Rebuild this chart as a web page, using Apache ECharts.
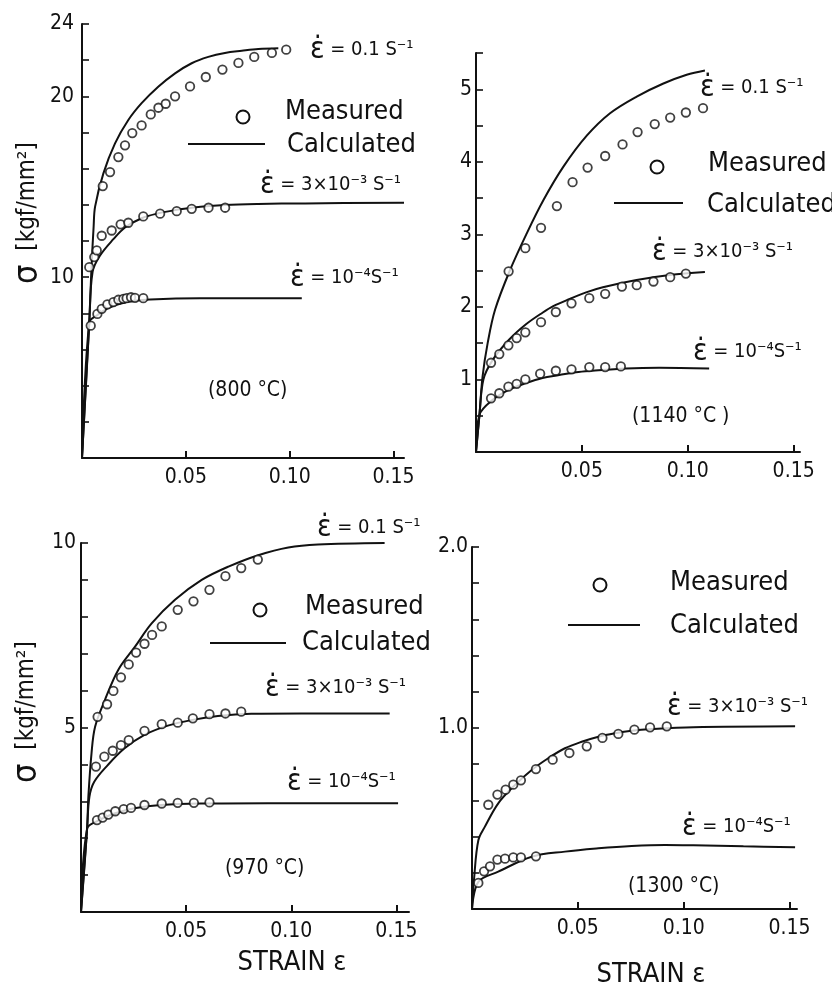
<!DOCTYPE html>
<html>
<head>
<meta charset="utf-8">
<script src="https://cdn.jsdelivr.net/npm/echarts@6/dist/echarts.min.js"></script>
<style>
  html, body { margin: 0; padding: 0; background: #fff; }
  #chart { width: 832px; height: 988px; }
</style>
</head>
<body>
<div id="chart"></div>
<script>
// ---- Strain axis tick labels (shared by all four panels) ----
const strainTicks = [0.05, 0.10, 0.15];

// ---- Stress axis labels per panel ----
const stressLabels800 = [10, 20, 24];
const stressLabels1140 = [1, 2, 3, 4, 5];
const stressLabels970 = [5, 10];
const stressLabels1300 = [1.0, 2.0];

// ---- Strain-rate captions ----
const rateFast = '0.1 S⁻¹';
const rateMid = '3×10⁻³ S⁻¹';
const rateSlow = '10⁻⁴S⁻¹';

// ---- 800 °C : [strain, stress kgf/mm²] ----
const calc800Fast = [[0,0],[0.0035,7.5],[0.0046,10.6],[0.0056,12.8],[0.0063,13.9],[0.0103,15.74],[0.0159,17.40],[0.0223,18.69],[0.0287,19.62],[0.0367,20.53],[0.0448,21.27],[0.0528,21.83],[0.0608,22.18],[0.0688,22.40],[0.0769,22.52],[0.0849,22.62],[0.0945,22.66]];
const calc800Mid = [[0,0],[0.0035,7.5],[0.0051,10.3],[0.0087,11.2],[0.0151,12.1],[0.0207,12.75],[0.0287,13.26],[0.0367,13.53],[0.0448,13.71],[0.0528,13.84],[0.0688,13.99],[0.0847,14.05],[0.1074,14.08],[0.155,14.12]];
const calc800Slow = [[0,0],[0.0035,7.51],[0.0071,7.88],[0.0119,8.25],[0.0215,8.62],[0.0328,8.76],[0.0568,8.84],[0.1058,8.84]];
const meas800Fast = [[0.0100,15.04],[0.0135,15.81],[0.0175,16.64],[0.0207,17.29],[0.0242,17.97],[0.0287,18.39],[0.0331,19.00],[0.0368,19.37],[0.0403,19.59],[0.0448,20.00],[0.0520,20.55],[0.0596,21.07],[0.0676,21.48],[0.0753,21.85],[0.0829,22.18],[0.0914,22.40],[0.0983,22.58]];
const meas800Mid = [[0.0035,10.55],[0.0059,11.11],[0.0071,11.48],[0.0095,12.29],[0.0143,12.58],[0.0186,12.92],[0.0223,13.01],[0.0295,13.36],[0.0376,13.51],[0.0456,13.65],[0.0528,13.78],[0.0609,13.84],[0.0689,13.84]];
const meas800Slow = [[0.0042,7.32],[0.0074,7.97],[0.0095,8.25],[0.0122,8.49],[0.0151,8.62],[0.0175,8.75],[0.0199,8.80],[0.0215,8.84],[0.0236,8.89],[0.0255,8.86],[0.0295,8.84]];

// ---- 1140 °C ----
const calc1140Fast = [[0,0],[0.0016,0.5],[0.0031,1.04],[0.0055,1.5],[0.0090,1.96],[0.0161,2.51],[0.0239,3.01],[0.0318,3.47],[0.0412,3.93],[0.0523,4.36],[0.0633,4.67],[0.0759,4.90],[0.0885,5.08],[0.0995,5.20],[0.1081,5.26]];
const calc1140Mid = [[0,0],[0.0016,0.5],[0.0035,1.00],[0.0079,1.27],[0.0157,1.55],[0.0236,1.76],[0.0314,1.92],[0.0365,2.01],[0.0443,2.11],[0.0520,2.20],[0.0599,2.27],[0.0758,2.37],[0.0915,2.44],[0.1081,2.48]];
const calc1140Slow = [[0,0],[0.0016,0.51],[0.0079,0.72],[0.0157,0.86],[0.0236,0.95],[0.0314,1.02],[0.0393,1.06],[0.0472,1.10],[0.0550,1.12],[0.0708,1.15],[0.0865,1.16],[0.1101,1.15]];
const meas1140Fast = [[0.0154,2.49],[0.0233,2.81],[0.0307,3.09],[0.0382,3.39],[0.0456,3.72],[0.0527,3.92],[0.0610,4.08],[0.0692,4.24],[0.0763,4.41],[0.0844,4.52],[0.0917,4.61],[0.0991,4.68],[0.1072,4.74]];
const meas1140Mid = [[0.0071,1.23],[0.0110,1.35],[0.0153,1.47],[0.0192,1.57],[0.0233,1.65],[0.0307,1.79],[0.0377,1.93],[0.0451,2.05],[0.0535,2.12],[0.0610,2.18],[0.0689,2.28],[0.0759,2.30],[0.0838,2.35],[0.0917,2.41],[0.0991,2.46]];
const meas1140Slow = [[0.0071,0.74],[0.0110,0.81],[0.0153,0.90],[0.0192,0.94],[0.0233,1.00],[0.0303,1.08],[0.0377,1.12],[0.0451,1.14],[0.0535,1.17],[0.0610,1.17],[0.0684,1.18]];

// ---- 970 °C ----
const calc970Fast = [[0,0],[0.0029,2.26],[0.0035,3.12],[0.0050,4.3],[0.0067,5.02],[0.0114,5.75],[0.0177,6.56],[0.0257,7.19],[0.0336,7.82],[0.0447,8.46],[0.0574,9.00],[0.0701,9.36],[0.0843,9.67],[0.0986,9.88],[0.1127,9.96],[0.1444,10.0]];
const calc970Mid = [[0,0],[0.0029,2.26],[0.0040,3.12],[0.0063,3.53],[0.0127,3.98],[0.0206,4.43],[0.0302,4.80],[0.0413,5.05],[0.0524,5.20],[0.0651,5.31],[0.0810,5.37],[0.1048,5.38],[0.1468,5.38]];
const calc970Slow = [[0,0],[0.0029,2.26],[0.0079,2.47],[0.0159,2.67],[0.0254,2.81],[0.0381,2.90],[0.0571,2.94],[0.0889,2.95],[0.1508,2.95]];
const meas970Fast = [[0.0079,5.29],[0.0124,5.63],[0.0154,5.99],[0.0190,6.36],[0.0227,6.71],[0.0262,7.03],[0.0302,7.27],[0.0338,7.51],[0.0384,7.74],[0.0460,8.19],[0.0535,8.42],[0.0611,8.73],[0.0687,9.10],[0.0762,9.32],[0.0841,9.55]];
const meas970Mid = [[0.0071,3.94],[0.0111,4.21],[0.0151,4.37],[0.0190,4.52],[0.0227,4.66],[0.0302,4.91],[0.0384,5.09],[0.0460,5.13],[0.0532,5.25],[0.0611,5.36],[0.0687,5.38],[0.0762,5.43]];
const meas970Slow = [[0.0076,2.49],[0.0103,2.56],[0.0130,2.64],[0.0163,2.73],[0.0203,2.79],[0.0238,2.82],[0.0302,2.90],[0.0384,2.94],[0.0460,2.96],[0.0537,2.96],[0.0611,2.97]];

// ---- 1300 °C ----
const calc1300Mid = [[0,0],[0.0010,0.17],[0.0030,0.38],[0.0061,0.455],[0.0124,0.584],[0.0203,0.685],[0.0282,0.768],[0.0360,0.833],[0.0439,0.888],[0.0518,0.924],[0.0597,0.952],[0.0675,0.971],[0.0754,0.985],[0.0849,0.994],[0.1046,1.004],[0.1526,1.009]];
const calc1300Slow = [[0,0],[0.0030,0.15],[0.0124,0.206],[0.0282,0.289],[0.0439,0.317],[0.0597,0.335],[0.0754,0.348],[0.0912,0.354],[0.1046,0.352],[0.1282,0.346],[0.1526,0.341]];
const meas1300Mid = [[0.0077,0.576],[0.0120,0.632],[0.0159,0.659],[0.0195,0.687],[0.0231,0.711],[0.0302,0.773],[0.0381,0.825],[0.0460,0.862],[0.0542,0.899],[0.0616,0.945],[0.0691,0.967],[0.0767,0.991],[0.0841,1.004],[0.0920,1.009]];
const meas1300Slow = [[0.0030,0.144],[0.0057,0.208],[0.0085,0.236],[0.0120,0.273],[0.0156,0.278],[0.0195,0.285],[0.0231,0.285],[0.0302,0.291]];

// ---- Drawing ----
const FONT = "'DejaVu Sans Condensed','DejaVu Sans',sans-serif";
const INK = '#111';

const panels = [
  { grid: { left: 82, top: 24, width: 322, height: 434 }, xMax: 0.155, yMax: 24, yStep: 2, labels: stressLabels800, fmt: v => String(v), lblGap: 8,
    calc: [calc800Fast, calc800Mid, calc800Slow], meas: [meas800Fast, meas800Mid, meas800Slow] },
  { grid: { left: 476, top: 53, width: 324, height: 399 }, xMax: 0.153, yMax: 5.5, yStep: 0.5, labels: stressLabels1140, fmt: v => String(v), lblGap: 4,
    calc: [calc1140Fast, calc1140Mid, calc1140Slow], meas: [meas1140Fast, meas1140Mid, meas1140Slow] },
  { grid: { left: 81, top: 543, width: 328, height: 369 }, xMax: 0.156, yMax: 10, yStep: 1, labels: stressLabels970, fmt: v => String(v), lblGap: 5,
    calc: [calc970Fast, calc970Mid, calc970Slow], meas: [meas970Fast, meas970Mid, meas970Slow] },
  { grid: { left: 472, top: 547, width: 325, height: 362 }, xMax: 0.1535, yMax: 2.0, yStep: 0.2, labels: stressLabels1300, fmt: v => v.toFixed(1), lblGap: 4,
    calc: [calc1300Mid, calc1300Slow], meas: [meas1300Mid, meas1300Slow] }
];

const grids = [], xAxes = [], yAxes = [], series = [];
panels.forEach((p, i) => {
  grids.push(p.grid);
  xAxes.push({
    gridIndex: i, type: 'value', min: 0, max: p.xMax,
    axisLine: { lineStyle: { color: INK, width: 2 } },
    axisTick: { inside: true, length: 7, customValues: strainTicks, lineStyle: { color: INK, width: 2 } },
    axisLabel: { customValues: strainTicks, formatter: v => v.toFixed(2), color: INK, fontFamily: FONT, fontSize: 21, margin: 9 },
    splitLine: { show: false }
  });
  yAxes.push({
    gridIndex: i, type: 'value', min: 0, max: p.yMax, interval: p.yStep,
    axisLine: { show: true, lineStyle: { color: INK, width: 2 } },
    axisTick: { show: true, inside: true, length: 7, lineStyle: { color: INK, width: 1.6 } },
    axisLabel: {
      color: INK, fontFamily: FONT, fontSize: 21, margin: p.lblGap,
      formatter: v => p.labels.some(l => Math.abs(l - v) < 1e-6) ? p.fmt(v) : ''
    },
    splitLine: { show: false }
  });
  p.calc.forEach(d => series.push({
    type: 'line', xAxisIndex: i, yAxisIndex: i, data: d, showSymbol: false,
    smooth: 0.35, silent: true, z: 2,
    lineStyle: { color: INK, width: 2 }
  }));
  p.meas.forEach(d => series.push({
    type: 'scatter', xAxisIndex: i, yAxisIndex: i, data: d, symbol: 'circle', symbolSize: 8.5,
    silent: true, z: 3, itemStyle: { color: '#fff', borderColor: INK, borderWidth: 1.8 }
  }));
});

// Text helpers
const txt = (x, y, text, size, align) => ({
  type: 'text', x, y, silent: true,
  style: { text, fill: INK, fontFamily: FONT, fontSize: size, textAlign: align || 'left', textVerticalAlign: 'middle' }
});
const rate = (x, y, val) => ({
  type: 'text', x, y, silent: true,
  style: {
    text: '{e|ε̇} = ' + val, fill: INK, fontFamily: FONT, fontSize: 20,
    textAlign: 'left', textVerticalAlign: 'middle',
    rich: { e: { fontSize: 30, fontFamily: FONT, fill: INK } }
  }
});
const mark = (cx, cy) => ({ type: 'circle', silent: true, shape: { cx, cy, r: 6.5 }, style: { fill: '#fff', stroke: INK, lineWidth: 2 } });
const stroke = (x1, x2, y) => ({ type: 'line', silent: true, shape: { x1, y1: y, x2, y2: y }, style: { stroke: INK, lineWidth: 2 } });
const stressName = (x, y) => ({
  type: 'text', x, y, rotation: Math.PI / 2, silent: true,
  style: {
    text: '{s|σ}  [kgf/mm²]', fill: INK, fontFamily: FONT, fontSize: 24,
    textAlign: 'center', textVerticalAlign: 'middle',
    rich: { s: { fontSize: 34, fontFamily: FONT, fill: INK } }
  }
});

const graphic = [
  // 800 °C
  rate(310, 50, rateFast), mark(243, 117), txt(285, 112, 'Measured', 27),
  stroke(188, 265, 144), txt(287, 145, 'Calculated', 27),
  rate(260, 185, rateMid), rate(290, 278, rateSlow), txt(208, 391, '(800 °C)', 21),
  stressName(28, 213),
  // 1140 °C
  rate(700, 88, rateFast), mark(657, 167), txt(708, 164, 'Measured', 27),
  stroke(614, 683, 203), txt(707, 205, 'Calculated', 27),
  rate(652, 252, rateMid), rate(693, 352, rateSlow), txt(632, 417, '(1140 °C )', 21),
  // 970 °C
  rate(317, 528, rateFast), mark(260, 610), txt(305, 607, 'Measured', 27),
  stroke(210, 286, 643), txt(302, 643, 'Calculated', 27),
  rate(265, 688, rateMid), rate(287, 782, rateSlow), txt(225, 869, '(970 °C)', 21),
  stressName(27, 712), txt(292, 963, 'STRAIN ε', 27, 'center'),
  // 1300 °C
  mark(600, 585), txt(670, 583, 'Measured', 27),
  stroke(568, 640, 625), txt(670, 626, 'Calculated', 27),
  rate(667, 707, rateMid), rate(682, 827, rateSlow), txt(628, 887, '(1300 °C)', 21),
  txt(651, 975, 'STRAIN ε', 27, 'center')
];

const chart = echarts.init(document.getElementById('chart'), null, { renderer: 'canvas' });
chart.setOption({
  animation: false,
  backgroundColor: '#fff',
  grid: grids, xAxis: xAxes, yAxis: yAxes, series, graphic
});
</script>
</body>
</html>
